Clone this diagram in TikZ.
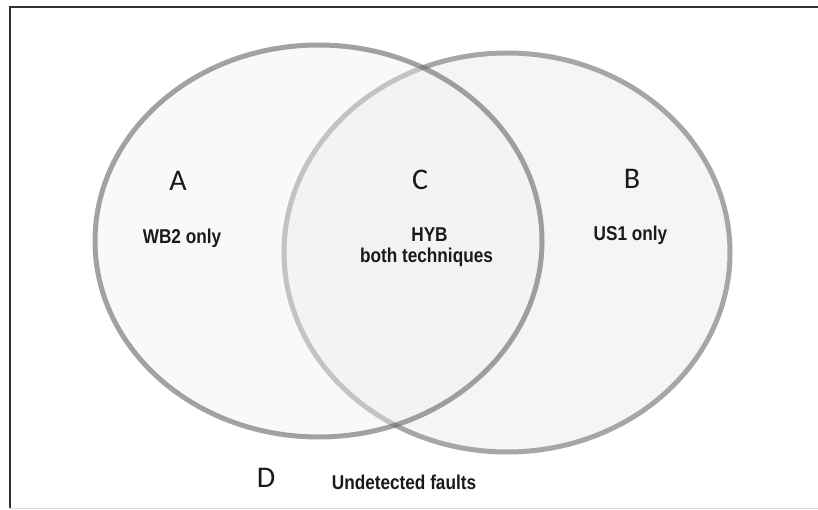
\documentclass[tikz,border=0pt]{standalone}
\usepackage{fontspec}
\usetikzlibrary{shapes.geometric}
\newfontfamily\letterfont{Carlito}
\newfontfamily\labelfont[FakeStretch=0.86]{Liberation Sans}
\definecolor{ink}{HTML}{1A1A1A}
\definecolor{frameink}{HTML}{333333}
\tikzset{
  setshape/.style={ellipse, inner sep=0pt, line width=5pt},
  backset/.style={setshape, draw=black!35, fill=black!4},
  frontset/.style={setshape, draw=black!60, draw opacity=0.6,
    fill=black!6, fill opacity=0.4},
  letter/.style={anchor=base, inner sep=0pt, text=ink,
    font=\letterfont\fontsize{30}{30}\selectfont},
  setlabel/.style={anchor=base, inner sep=0pt, text=ink,
    font=\labelfont\bfseries\fontsize{20}{20}\selectfont}
}
\begin{document}
\begin{tikzpicture}[x=1pt, y=-1pt]
  \useasboundingbox (0,0) rectangle (818,510);
  \fill[white] (0,0) rectangle (818,510);
  % frame
  \draw[frameink, line width=2pt] (9.5,508) -- (9.5,7) -- (818,7);
  \draw[black!14, line width=1.5pt] (9.5,508.5) -- (818,508.5);
  % the two sets: US1 behind, WB2 in front
  \node[backset, minimum width=446pt, minimum height=399pt] (us) at (507,252.5) {};
  \node[frontset, minimum width=447pt, minimum height=392pt] (wb) at (318.5,241) {};
  % region letters
  \node[letter] (la) at (178,191) {A};
  \node[letter] (lc) at (420,190) {C};
  \node[letter] (lb) at (632,189) {B};
  \node[letter] (ld) at (266,487) {D};
  % region descriptions
  \node[setlabel] (ta) at (182,244) {WB2 only};
  \node[setlabel] (tc1) at (429.5,242) {HYB};
  \node[setlabel] (tc2) at (426.5,263) {both techniques};
  \node[setlabel] (tb) at (630.5,241) {US1 only};
  \node[setlabel] (td) at (404,489) {Undetected faults};
\end{tikzpicture}
\end{document}
